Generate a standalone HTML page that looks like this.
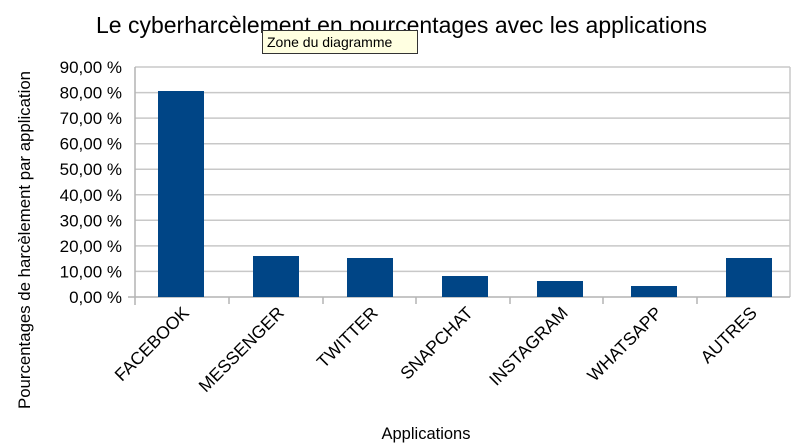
<!DOCTYPE html>
<html><head><meta charset="utf-8"><style>
body{margin:0;background:#fff;}
svg{display:block;font-family:"Liberation Sans",sans-serif;}
</style></head><body>
<svg width="800" height="445" viewBox="0 0 800 445">
<text x="96" y="33" font-size="23" textLength="611" lengthAdjust="spacingAndGlyphs" fill="#000">Le cyberharcèlement en pourcentages avec les applications</text>
<g stroke="#c8c8c8" stroke-width="1.5">
<line x1="135" y1="67" x2="790" y2="67"/>
<line x1="135" y1="92.6" x2="790" y2="92.6"/>
<line x1="135" y1="118.1" x2="790" y2="118.1"/>
<line x1="135" y1="143.7" x2="790" y2="143.7"/>
<line x1="135" y1="169.2" x2="790" y2="169.2"/>
<line x1="135" y1="194.8" x2="790" y2="194.8"/>
<line x1="135" y1="220.3" x2="790" y2="220.3"/>
<line x1="135" y1="245.9" x2="790" y2="245.9"/>
<line x1="135" y1="271.4" x2="790" y2="271.4"/>
<line x1="790" y1="67" x2="790" y2="297"/>
</g>
<g stroke="#b4b4b4" stroke-width="1.5">
<line x1="135" y1="67" x2="135" y2="305"/>
<line x1="128" y1="297" x2="790" y2="297"/>
<line x1="229" y1="297" x2="229" y2="304"/>
<line x1="323" y1="297" x2="323" y2="304"/>
<line x1="416" y1="297" x2="416" y2="304"/>
<line x1="510" y1="297" x2="510" y2="304"/>
<line x1="603" y1="297" x2="603" y2="304"/>
<line x1="697" y1="297" x2="697" y2="304"/>
</g>
<g font-size="17" text-anchor="end" fill="#000">
<text x="122" y="73">90,00 %</text>
<text x="122" y="98.6">80,00 %</text>
<text x="122" y="124.1">70,00 %</text>
<text x="122" y="149.7">60,00 %</text>
<text x="122" y="175.2">50,00 %</text>
<text x="122" y="200.8">40,00 %</text>
<text x="122" y="226.3">30,00 %</text>
<text x="122" y="251.9">20,00 %</text>
<text x="122" y="277.4">10,00 %</text>
<text x="122" y="303">0,00 %</text>
</g>
<g fill="#004586">
<rect x="158" y="91" width="46" height="206"/>
<rect x="253" y="256" width="46" height="41"/>
<rect x="347" y="258" width="46" height="39"/>
<rect x="442" y="276" width="46" height="21"/>
<rect x="537" y="281" width="46" height="16"/>
<rect x="631" y="286" width="46" height="11"/>
<rect x="726" y="258" width="46" height="39"/>
</g>
<g font-size="17.5" text-anchor="end" fill="#000">
<text transform="translate(190,314) rotate(-45)">FACEBOOK</text>
<text transform="translate(285,314) rotate(-45)">MESSENGER</text>
<text transform="translate(379,314) rotate(-45)">TWITTER</text>
<text transform="translate(474,314) rotate(-45)">SNAPCHAT</text>
<text transform="translate(569,314) rotate(-45)">INSTAGRAM</text>
<text transform="translate(663,314) rotate(-45)">WHATSAPP</text>
<text transform="translate(758,314) rotate(-45)">AUTRES</text>
</g>
<text x="426" y="439" font-size="16.5" text-anchor="middle">Applications</text>
<text transform="translate(30,240) rotate(-90)" font-size="16.5" text-anchor="middle" textLength="338" lengthAdjust="spacingAndGlyphs">Pourcentages de harcèlement par application</text>
<rect x="262.5" y="30.5" width="155" height="23" fill="#ffffe1" stroke="#333" stroke-width="1"/>
<text x="267" y="47" font-size="14">Zone du diagramme</text>
</svg>
</body></html>
